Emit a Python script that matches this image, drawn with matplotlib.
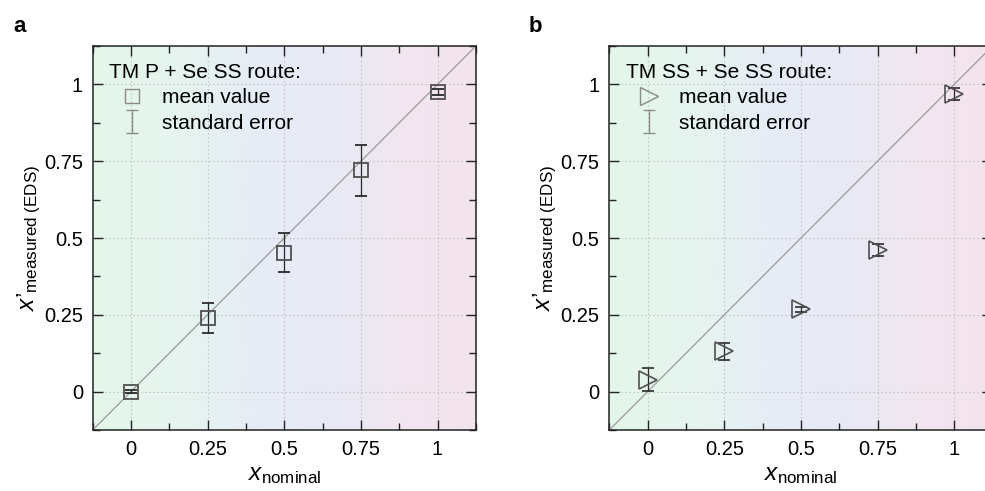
import numpy as np
import matplotlib
matplotlib.use("Agg")
import matplotlib.pyplot as plt
from matplotlib.colors import LinearSegmentedColormap
from matplotlib.lines import Line2D
from matplotlib.legend_handler import HandlerErrorbar
from matplotlib.container import ErrorbarContainer
from matplotlib.ticker import MultipleLocator

plt.rcParams["font.family"] = ["Liberation Sans", "DejaVu Sans"]
plt.rcParams["mathtext.fontset"] = "custom"
plt.rcParams["mathtext.rm"] = "Liberation Sans"
plt.rcParams["mathtext.it"] = "Liberation Sans:italic"

# nominal composition
x_nominal = [0, 0.25, 0.5, 0.75, 1.0]

# TM P + Se SS route
y_a = [0.0, 0.24, 0.452, 0.72, 0.975]
err_a = [0.005, 0.048, 0.063, 0.084, 0.01]

# TM SS + Se SS route
y_b = [0.039, 0.131, 0.268, 0.461, 0.970]
err_b = [0.037, 0.027, 0.008, 0.018, 0.02]

tick_values = [0, 0.25, 0.5, 0.75, 1]
tick_labels = ["0", "0.25", "0.5", "0.75", "1"]
lims = (-0.125, 1.125)

bg_cmap = LinearSegmentedColormap.from_list(
    "bg",
    [(0.0, "#e4f7ea"), (0.22, "#e6f4ef"), (0.45, "#e6ecf6"),
     (0.62, "#e8eaf5"), (0.82, "#f2e6f0"), (1.0, "#f4e3ed")])

fig = plt.figure(figsize=(9.85, 4.91), dpi=100)
ax_a = fig.add_axes([0.0941, 0.1242, 0.389, 0.782])
ax_b = fig.add_axes([0.6186, 0.1242, 0.389, 0.782])


def style_axes(ax):
    ax.set_xlim(lims)
    ax.set_ylim(lims)
    grad = np.linspace(0, 1, 256).reshape(1, -1)
    ax.imshow(grad, cmap=bg_cmap, extent=(lims[0], lims[1], lims[0], lims[1]),
              aspect="auto", zorder=0, interpolation="bicubic")
    ax.set_xticks(tick_values)
    ax.set_yticks(tick_values)
    ax.set_xticklabels(tick_labels)
    ax.set_yticklabels(tick_labels)
    ax.xaxis.set_minor_locator(MultipleLocator(0.125))
    ax.yaxis.set_minor_locator(MultipleLocator(0.125))
    ax.tick_params(which="both", direction="in", top=True, right=True,
                   labelsize=14.5, width=1.0, color="#222222")
    ax.tick_params(which="major", length=7, pad=7)
    ax.tick_params(which="minor", length=5)
    ax.grid(True, which="major", linestyle=(0, (1.2, 2.4)), color="#bdbdbd",
            linewidth=0.8, zorder=1)
    for s in ax.spines.values():
        s.set_linewidth(1.1)
        s.set_color("#222222")
    ax.axline((0, 0), slope=1, color="#9a9a9a", linewidth=0.9, zorder=2)
    ax.set_xlabel(r"$x_{\mathrm{nominal}}$", fontsize=17.5, labelpad=3.5)
    ax.set_ylabel("$x\u2019_{\\mathrm{measured\\ (EDS)}}$", fontsize=17.5, labelpad=1)


def add_legend(ax, title, marker, msize):
    mean_h = Line2D([], [], linestyle="none", marker=marker, markersize=msize,
                    markerfacecolor="none", markeredgecolor="#8a8a8a",
                    markeredgewidth=1.0)
    err_h = ax.errorbar([np.nan], [np.nan], yerr=[np.nan], fmt="none",
                        ecolor="#8a8a8a", elinewidth=1.0, capsize=4.5,
                        capthick=1.0)
    leg = ax.legend([mean_h, err_h], ["mean value", "standard error"],
                    title=title, loc="upper left", frameon=False,
                    fontsize=15, title_fontsize=15, alignment="left",
                    handlelength=2.2, handletextpad=0.34, labelspacing=0.32,
                    borderaxespad=0.2, borderpad=0.6,
                    handler_map={ErrorbarContainer: HandlerErrorbar(yerr_size=0.55)})
    leg.set_zorder(5)


style_axes(ax_a)
ax_a.errorbar(x_nominal, y_a, yerr=err_a, fmt="s", markersize=10,
              markerfacecolor="none", markeredgecolor="#505050",
              markeredgewidth=1.3, ecolor="#2a2a2a", elinewidth=0.9,
              capsize=4.5, capthick=0.9, zorder=4)
add_legend(ax_a, "TM P + Se SS route:", "s", 10)

style_axes(ax_b)
ax_b.errorbar(x_nominal, y_b, yerr=err_b, fmt=">", markersize=12.5,
              markerfacecolor="none", markeredgecolor="#505050",
              markeredgewidth=1.2, ecolor="#2a2a2a", elinewidth=0.9,
              capsize=4.5, capthick=0.9, zorder=4)
add_legend(ax_b, "TM SS + Se SS route:", ">", 12.5)

fig.text(0.0132, 0.935, "a", fontsize=16, fontweight="bold", ha="left", va="baseline")
fig.text(0.537, 0.935, "b", fontsize=16, fontweight="bold", ha="left", va="baseline")

fig.savefig("out.png", dpi=100)
